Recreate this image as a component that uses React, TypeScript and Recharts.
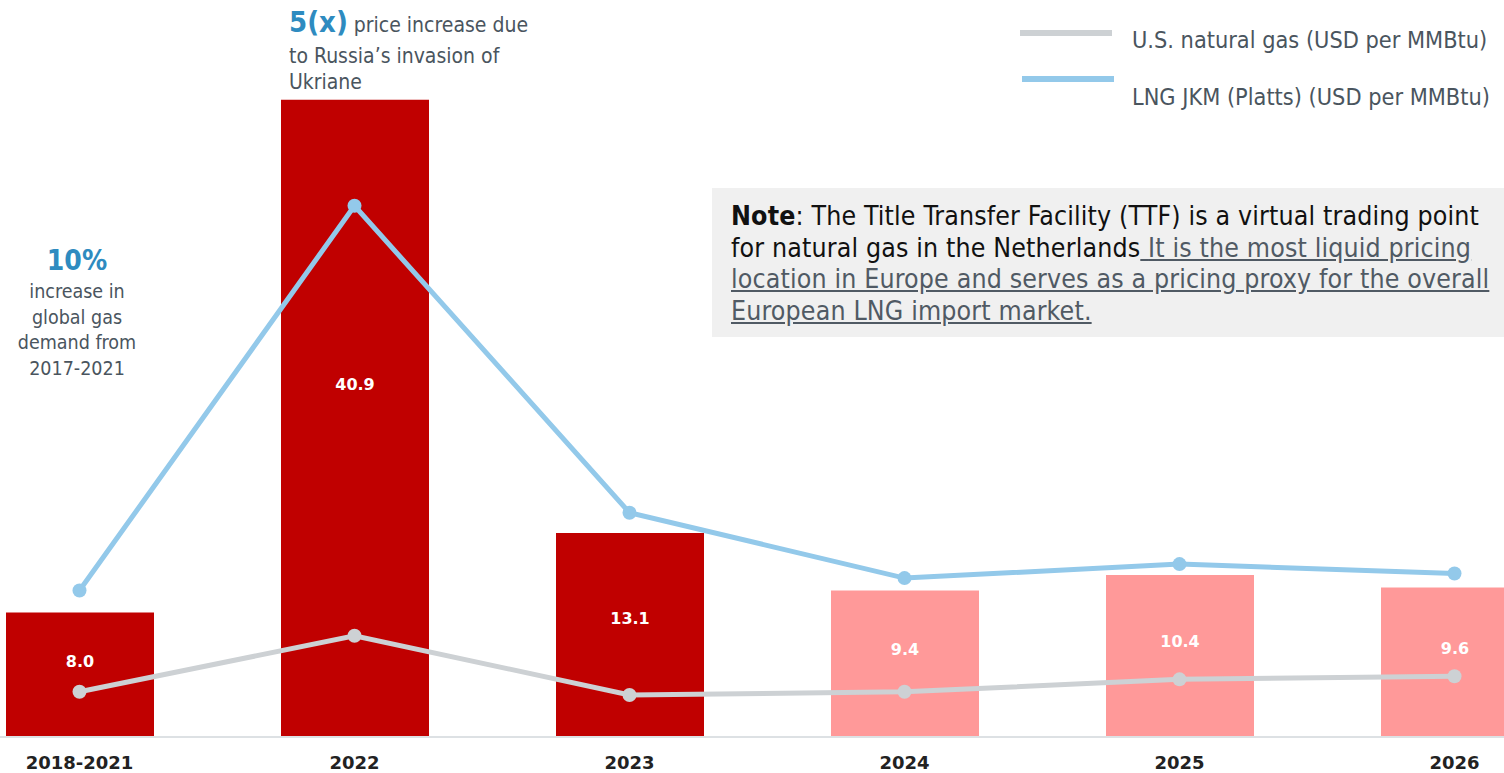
import { ComposedChart, Bar, Line, XAxis, YAxis, Cell, LabelList, Legend } from "recharts";

const categories = ["2018-2021", "2022", "2023", "2024", "2025", "2026"];
const ttfPrices = [8.0, 40.9, 13.1, 9.4, 10.4, 9.6];
const usGasPrices = [2.9, 6.5, 2.7, 2.9, 3.7, 3.9];
const jkmPrices = [9.4, 34.1, 14.4, 10.2, 11.1, 10.5];
const isForecast = [false, false, false, true, true, true];
const legendOrder = ["usGas", "jkm"];

const data = categories.map((year, i) => ({
  year,
  ttf: ttfPrices[i],
  usGas: usGasPrices[i],
  jkm: jkmPrices[i],
}));

const ACTUAL = "#C00000";
const FORECAST = "#FF9999";
const GRAY_LINE = "#CDD1D4";
const BLUE_LINE = "#93C9EA";
const BLUE_TEXT = "#2E8BC0";
const TEXT = "#4A555E";
const FONT = "'DejaVu Sans', sans-serif";
const FONT_NARROW = "'DejaVu Sans Condensed', 'DejaVu Sans', sans-serif";

// chart is wider than the page so the first/last bars are cut like the source
const SHIFT = -58.5;

// eslint-disable-next-line @typescript-eslint/no-explicit-any
function BarValue({ x, y, width, height, value }: any) {
  return (
    <text
      x={x + width / 2}
      y={y + height * 0.46 - 8}
      textAnchor="middle"
      dominantBaseline="central"
      fill="#fff"
      fontFamily={FONT}
      fontWeight="bold"
      fontSize={16}
    >
      {Number(value).toFixed(1)}
    </text>
  );
}

// eslint-disable-next-line @typescript-eslint/no-explicit-any
function LegendBox({ payload }: any) {
  const items = (payload || [])
    .filter((p: any) => legendOrder.includes(p.dataKey))
    .sort((a: any, b: any) => legendOrder.indexOf(a.dataKey) - legendOrder.indexOf(b.dataKey));
  // zero height so the legend does not take space from the plot
  return (
    <div style={{ position: "relative", width: 484, height: 0 }}>
      {items.map((p: any, i: number) => (
        <div key={p.dataKey}>
          <div
            style={{
              position: "absolute",
              left: i * 2,
              top: i === 0 ? 30 : 76,
              width: 92,
              height: 6,
              background: p.color,
            }}
          />
          <div
            style={{
              position: "absolute",
              left: 112,
              top: i === 0 ? 25 : 82,
              fontFamily: FONT_NARROW,
              fontSize: 23.3,
              lineHeight: "30px",
              color: TEXT,
              whiteSpace: "nowrap",
            }}
          >
            {p.value}
          </div>
        </div>
      ))}
    </div>
  );
}

export default function App() {
  return (
    <div
      style={{
        position: "relative",
        width: 1504,
        height: 773,
        overflow: "hidden",
        background: "#fff",
      }}
    >
      <style>{"html,body{margin:0;padding:0;overflow:hidden;}"}</style>
      <div style={{ position: "absolute", left: SHIFT, top: 0 }}>
        <ComposedChart
          width={1650}
          height={773}
          data={data}
          margin={{ top: 36, right: 0, left: 0, bottom: 0 }}
        >
          <XAxis
            dataKey="year"
            height={36}
            tickLine={false}
            tickSize={0}
            tickMargin={19}
            axisLine={{ stroke: "#DDE1E4", strokeWidth: 2 }}
            tick={{ fill: "#222", fontSize: 18, fontWeight: "bold", fontFamily: FONT }}
            interval={0}
          />
          <YAxis hide domain={[0, 45]} />
          <Bar dataKey="ttf" barSize={148} isAnimationActive={false} legendType="none">
            {data.map((d, i) => (
              <Cell key={d.year} fill={isForecast[i] ? FORECAST : ACTUAL} />
            ))}
            <LabelList dataKey="ttf" content={<BarValue />} />
          </Bar>
          <Line
            dataKey="usGas"
            name="U.S. natural gas (USD per MMBtu)"
            stroke={GRAY_LINE}
            strokeWidth={5}
            dot={{ r: 7, fill: GRAY_LINE, stroke: GRAY_LINE, strokeWidth: 0 }}
            activeDot={false}
            isAnimationActive={false}
          />
          <Line
            dataKey="jkm"
            name="LNG JKM (Platts) (USD per MMBtu)"
            stroke={BLUE_LINE}
            strokeWidth={5}
            dot={{ r: 7, fill: BLUE_LINE, stroke: BLUE_LINE, strokeWidth: 0 }}
            activeDot={false}
            isAnimationActive={false}
          />
          <Legend
            content={<LegendBox />}
            verticalAlign="top"
            wrapperStyle={{ position: "absolute", left: 1020 - SHIFT, top: 0, width: 484, height: 0 }}
          />
        </ComposedChart>
      </div>

      {/* 2022 callout */}
      <div
        style={{
          position: "absolute",
          left: 289,
          top: 5,
          fontFamily: FONT_NARROW,
          fontSize: 21,
          lineHeight: "26px",
          color: TEXT,
          whiteSpace: "nowrap",
        }}
      >
        <div style={{ lineHeight: "35px" }}>
          <span style={{ color: BLUE_TEXT, fontWeight: "bold", fontSize: 29 }}>5(x)</span> price increase due
        </div>
        to Russia’s invasion of
        <br />
        Ukriane
      </div>

      {/* demand callout */}
      <div
        style={{
          position: "absolute",
          left: 7,
          top: 243,
          width: 140,
          textAlign: "center",
          fontFamily: FONT_NARROW,
          fontSize: 19.5,
          lineHeight: "25.5px",
          color: TEXT,
        }}
      >
        <div style={{ color: BLUE_TEXT, fontWeight: "bold", fontSize: 28, lineHeight: "36px" }}>10%</div>
        increase in
        <br />
        global gas
        <br />
        demand from
        <br />
        2017-2021
      </div>

      {/* note box */}
      <div
        style={{
          position: "absolute",
          left: 712,
          top: 188,
          width: 792,
          height: 149,
          background: "#F0F0F0",
          boxSizing: "border-box",
          padding: "12px 0 0 19px",
          fontFamily: FONT_NARROW,
          fontSize: 26.5,
          letterSpacing: "0.15px",
          lineHeight: "31.5px",
          color: "#111",
          whiteSpace: "nowrap",
        }}
      >
        <b>Note</b>: The Title Transfer Facility (TTF) is a virtual trading point
        <br />
        for natural gas in the Netherlands
        <span style={{ color: "#505A64", textDecoration: "underline" }}>
          {" "}It is the most liquid pricing
          <br />
          location in Europe and serves as a pricing proxy for the overall
          <br />
          European LNG import market.{" "}
        </span>
      </div>
    </div>
  );
}
